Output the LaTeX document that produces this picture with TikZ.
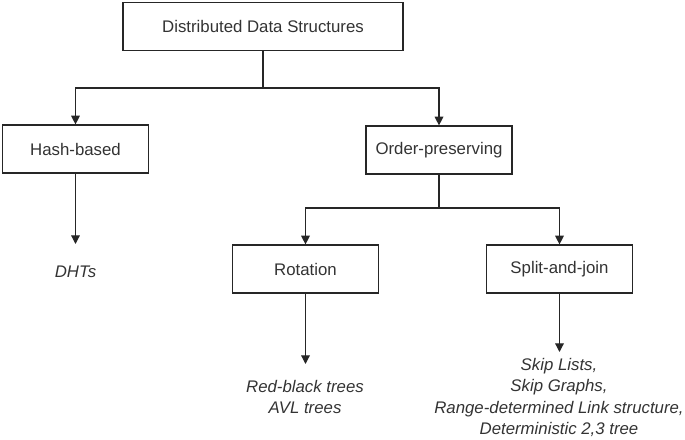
\documentclass[tikz,border=0pt]{standalone}
\usepackage{fontspec}
\setmainfont{Liberation Sans}
\usetikzlibrary{arrows.meta}
\definecolor{txt}{HTML}{333333}
\begin{document}
\begin{tikzpicture}[x=0.75pt,y=-0.75pt,
  box/.style={draw=black!85, line width=0.9pt, fill=white, minimum height=36pt, text=txt, font=\fontsize{12.6}{15}\selectfont, inner sep=0pt},
  leaf/.style={text=txt, font=\fontsize{12.6}{16}\selectfont\itshape, align=center, inner sep=0pt},
  conn/.style={draw=black!85, line width=0.9pt},
  arr/.style={conn, -{Triangle[length=6.5pt,width=6.5pt]}}]
\useasboundingbox (0,0) rectangle (685,439);
\node[box, minimum width=210pt] (root) at (263,26.5) {Distributed Data Structures};
\node[box, minimum width=109pt] (hash) at (75.5,149) {Hash-based};
\node[box, minimum width=109.5pt] (order) at (439,150) {Order-preserving};
\node[box, minimum width=109pt] (rot) at (305.5,269) {Rotation};
\node[box, minimum width=109pt] (split) at (559.5,269) {Split-and-join};
\node[leaf] (dht) at (75.5,272) {DHTs};
\node[leaf] (rb) at (305,397) {Red-black trees\\AVL trees};
\node[leaf] (sl) at (559,397.5) {Skip Lists,\\Skip Graphs,\\Range-determined Link structure,\\Deterministic 2,3 tree};
\coordinate (j1) at (263,88);
\coordinate (j2) at (439,208);
\draw[conn] (root.south) -- (j1);
\draw[arr] (j1) -| (hash.north);
\draw[arr] (j1) -| (order.north);
\draw[conn] (order.south) -- (j2);
\draw[arr] (j2) -| (rot.north);
\draw[arr] (j2) -| (split.north);
\draw[arr] (hash.south) -- (75.5,244);
\draw[arr] (rot.south) -- (305.5,364);
\draw[arr] (split.south) -- (559.5,352);
\end{tikzpicture}
\end{document}
